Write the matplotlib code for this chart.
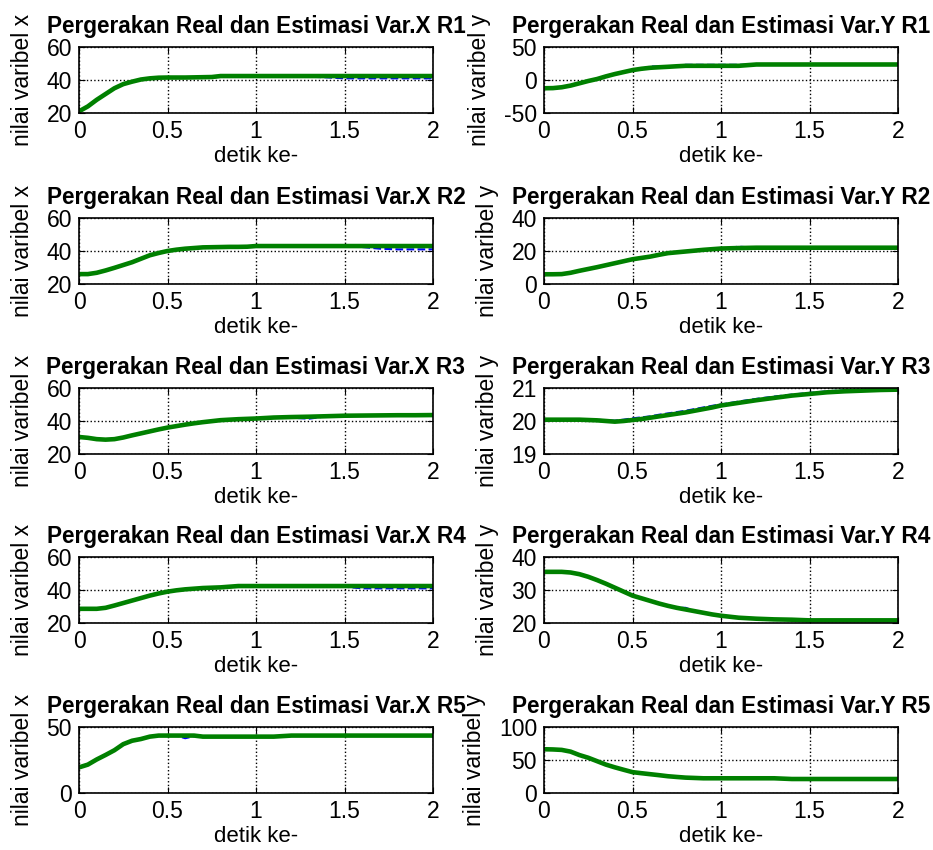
import numpy as np
import matplotlib
matplotlib.use("Agg")
import matplotlib.pyplot as plt

plt.rcParams['font.family'] = ['Liberation Sans', 'DejaVu Sans']
plt.rcParams['axes.unicode_minus'] = False

# waktu sampel (detik)
t = [0, 0.05, 0.1, 0.15, 0.2, 0.25, 0.3, 0.35, 0.4, 0.45, 0.5, 0.55, 0.6, 0.65, 0.7,
     0.75, 0.8, 0.85, 0.9, 0.95, 1.0, 1.1, 1.2, 1.3, 1.4, 1.5, 1.6, 1.7, 1.8, 1.9, 2.0]

# estimasi (hijau) dan real (biru) tiap robot
est_x1 = [21, 24, 28, 31.5, 35, 37.5, 39, 40.3, 41, 41.4, 41.5, 41.5, 41.5, 41.6, 41.7,
          41.8, 42.4, 42.4, 42.4, 42.4, 42.4, 42.4, 42.4, 42.4, 42.4, 42.4, 42.4, 42.4, 42.4, 42.4, 42.4]
real_x1 = [21, 24, 28, 31.5, 35, 37.5, 39, 40.3, 41, 41.4, 41.5, 41.5, 41.5, 41.6, 41.7,
           41.8, 42.2, 42.2, 42.2, 42.2, 42.2, 42.2, 42.0, 42.0, 41.6, 41.0, 41.0, 41.0, 41.0, 41.0, 41.0]

est_y1 = [-12.5, -12.3, -11, -8.5, -5, -1.5, 1.5, 5.5, 9, 12, 15, 17, 18.5, 19.3, 20,
          20.8, 21.5, 21.5, 21.5, 21.5, 21.5, 21.5, 23.5, 23.5, 23.5, 23.5, 23.5, 23.5, 23.5, 23.5, 23.5]
real_y1 = [-12.5, -12.3, -11, -8.5, -5, -1.5, 1.5, 5.5, 9, 12, 15, 17, 20.5, 20.5, 20.5,
           21, 23, 23, 23, 23, 23, 23, 23.5, 23.5, 23.5, 23.5, 23.5, 23.5, 23.5, 23.5, 23.5]

est_x2 = [26, 26, 26.8, 28.2, 29.8, 31.5, 33.2, 35.3, 37.4, 38.8, 40, 40.8, 41.4, 41.8, 42.2,
          42.3, 42.4, 42.5, 42.5, 42.6, 43, 43, 43, 43, 43, 43, 43, 43, 43, 43, 43]
real_x2 = [26, 26, 26.8, 28.2, 29.8, 31.5, 33.5, 35.8, 37.4, 38.8, 40, 40.8, 41.4, 41.8, 42.2,
           42.3, 42.4, 42.5, 42.5, 42.6, 42.6, 42.6, 42.6, 42.6, 42.6, 42.6, 42.4, 41.4, 41, 41, 41]

est_y2 = [5.9, 5.9, 6, 6.8, 8, 9.1, 10.2, 11.4, 12.6, 13.8, 15, 15.8, 16.6, 17.7, 18.7,
          19.2, 19.7, 20.2, 20.7, 21.1, 21.5, 21.8, 22, 22, 22, 22, 22, 22, 22, 22, 22]
real_y2 = [5.9, 5.9, 6, 6.8, 8, 9.1, 10.2, 11.4, 12.6, 13.8, 15, 15.8, 16.6, 17.7, 18.7,
           19.2, 19.7, 20.2, 20.7, 21.1, 21.5, 22.6, 22, 22, 22, 22, 22, 22, 22, 22, 22]

est_x3 = [30.3, 29.8, 29, 28.7, 29, 30, 31.3, 32.5, 33.7, 34.9, 36, 36.9, 37.8, 38.6, 39.3,
          39.9, 40.5, 40.8, 41.1, 41.3, 41.5, 42.1, 42.4, 42.6, 42.9, 43.2, 43.3, 43.4, 43.5, 43.5, 43.6]
real_x3 = [30.3, 29.8, 29, 28.7, 29, 30, 31.3, 32.5, 33.7, 34.9, 36, 36.9, 37.8, 38.6, 39.3,
           39.9, 40.5, 40.8, 41.1, 41.3, 41.5, 42.1, 42.0, 41.4, 42.9, 43.2, 43.3, 43.4, 43.5, 43.5, 43.6]

est_y3 = [20.04, 20.04, 20.04, 20.04, 20.04, 20.03, 20.02, 20.0, 19.98, 20.0, 20.03, 20.06, 20.1, 20.14, 20.18,
          20.22, 20.26, 20.31, 20.36, 20.41, 20.47, 20.55, 20.63, 20.7, 20.77, 20.82, 20.87, 20.9, 20.92, 20.94, 20.95]
real_y3 = [20.04, 20.04, 20.04, 20.04, 20.04, 20.05, 20.04, 20.02, 20.01, 20.04, 20.08, 20.11, 20.14, 20.19, 20.23,
           20.27, 20.31, 20.36, 20.41, 20.46, 20.5, 20.59, 20.67, 20.74, 20.8, 20.85, 20.9, 20.93, 20.95, 20.97, 20.98]

est_x4 = [28.6, 28.6, 28.6, 29.2, 30.6, 32.1, 33.6, 35.1, 36.6, 37.9, 39, 39.8, 40.4, 40.8, 41.2,
          41.4, 41.6, 42, 42.4, 42.4, 42.4, 42.4, 42.4, 42.4, 42.4, 42.4, 42.4, 42.4, 42.4, 42.4, 42.4]
real_x4 = [28.6, 28.6, 28.6, 29.2, 30.6, 32.1, 33.6, 35.1, 36.6, 37.9, 39, 39.8, 40.0, 40.6, 41.2,
           41.4, 41.6, 42, 42.2, 42.2, 42.2, 42.2, 42.2, 42.2, 42.2, 42.0, 41.0, 41.0, 41.0, 41.0, 41.0]

est_y4 = [35.5, 35.5, 35.5, 35.3, 34.8, 34, 33, 31.9, 30.7, 29.5, 28.3, 27.5, 26.7, 25.9, 25.2,
          24.6, 24.1, 23.6, 23.1, 22.6, 22.2, 21.6, 21.3, 21.1, 21.0, 20.8, 20.8, 20.8, 20.8, 20.8, 20.8]
real_y4 = [35.5, 35.5, 35.5, 35.3, 34.8, 34, 33, 31.9, 30.7, 29.5, 28.3, 27.5, 26.7, 25.9, 25.2,
           24.6, 24.6, 23.6, 23.1, 22.6, 22.2, 21.6, 21.3, 21.1, 21.0, 20.8, 20.8, 20.8, 20.8, 20.8, 20.8]

est_x5 = [19.4, 21.5, 25.4, 28.8, 32.4, 37, 39.6, 40.9, 42.7, 43.5, 43.5, 43.5, 43.5, 43.5, 42.7,
          42.7, 42.7, 42.7, 42.7, 42.7, 42.7, 42.7, 43.5, 43.5, 43.5, 43.5, 43.5, 43.5, 43.5, 43.5, 43.5]
real_x5 = [19.4, 21.5, 25.4, 28.8, 32.4, 37, 39.6, 40.9, 42.7, 43.5, 43.5, 43.5, 41.5, 43.0, 42.7,
           42.7, 42.7, 42.7, 42.7, 42.7, 42.7, 42.7, 43.5, 43.5, 43.5, 43.5, 43.5, 43.5, 43.5, 43.5, 43.5]

est_y5 = [66.3, 66, 65.3, 62.7, 57.5, 53.4, 48.2, 43, 38.9, 35.2, 31.6, 30, 28.5, 27, 25.4,
          24.3, 23.3, 22.8, 22.3, 22.3, 22.3, 22.3, 22.3, 22.3, 21.2, 21.2, 21.2, 21.2, 21.2, 21.2, 21.2]
real_y5 = est_y5

panels = [
    ("Var.X R1", "x", est_x1, real_x1, [20, 40, 60]),
    ("Var.Y R1", "y", est_y1, real_y1, [-50, 0, 50]),
    ("Var.X R2", "x", est_x2, real_x2, [20, 40, 60]),
    ("Var.Y R2", "y", est_y2, real_y2, [0, 20, 40]),
    ("Var.X R3", "x", est_x3, real_x3, [20, 40, 60]),
    ("Var.Y R3", "y", est_y3, real_y3, [19, 20, 21]),
    ("Var.X R4", "x", est_x4, real_x4, [20, 40, 60]),
    ("Var.Y R4", "y", est_y4, real_y4, [20, 30, 40]),
    ("Var.X R5", "x", est_x5, real_x5, [0, 50]),
    ("Var.Y R5", "y", est_y5, real_y5, [0, 50, 100]),
]

W, H = 933, 850
fig = plt.figure(figsize=(W / 100, H / 100), dpi=100)

lefts = [79, 544]
tops = [47, 218, 388, 557, 727]
aw, ah = 354, 66

for i, (name, var, est, real, yt) in enumerate(panels):
    r, c = divmod(i, 2)
    ax = fig.add_axes([lefts[c] / W, (H - tops[r] - ah) / H, aw / W, ah / H])
    ax.plot(t, real, color='blue', ls='--', lw=1.5)
    ax.plot(t, est, color=(0, 0.5, 0), lw=3.3)
    ax.set_xlim(0, 2)
    ax.set_ylim(yt[0], yt[-1])
    ax.set_xticks([0, 0.5, 1, 1.5, 2])
    ax.set_xticklabels(['0', '0.5', '1', '1.5', '2'])
    ax.set_yticks(yt)
    ax.grid(True, color='black', ls=':', lw=1)
    ax.tick_params(direction='in', top=True, right=True, length=4, labelsize=16.5, pad=5)
    for s in ax.spines.values():
        s.set_linewidth(1.2)
    ax.set_title("Pergerakan Real dan Estimasi " + name, fontsize=16.3, fontweight='bold', pad=10)
    ax.set_xlabel("detik ke-", fontsize=16, labelpad=2)
    ax.set_ylabel("nilai varibel " + var, fontsize=16.5, labelpad=9)

fig.savefig("out.png", dpi=100)
